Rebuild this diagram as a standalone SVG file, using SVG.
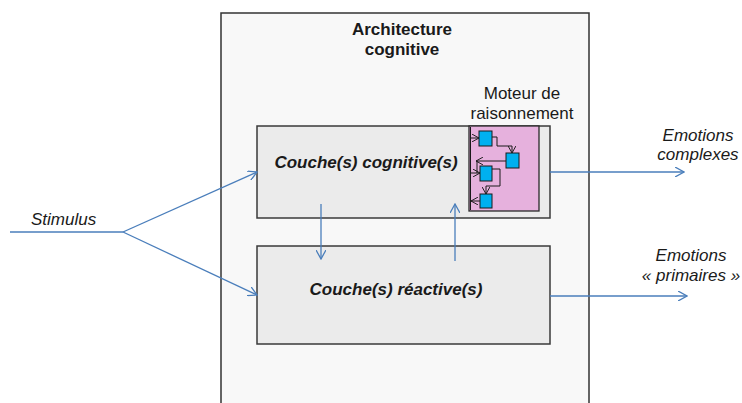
<svg xmlns="http://www.w3.org/2000/svg" width="742" height="403" viewBox="0 0 742 403">
<defs>
<style>
.t{font-family:"Liberation Sans",Arial,sans-serif;font-size:17px;fill:#1a1a1a}
.b{font-weight:bold}
.i{font-style:italic}
.box{fill:#ebebeb;stroke:#3a3a3a;stroke-width:1.5}
.conn{fill:none;stroke:#4a7ebb;stroke-width:1.3}
.sq{fill:#00b0f0;stroke:#1a1a1a;stroke-width:1}
.ln{fill:none;stroke:#1a1a1a;stroke-width:1}
</style>
<marker id="ah" viewBox="0 0 10 10" refX="9" refY="5" markerWidth="10" markerHeight="10" markerUnits="userSpaceOnUse" orient="auto">
<path d="M0,0 L9,5 L0,10" fill="none" stroke="#4a7ebb" stroke-width="1.3"/>
</marker>
<marker id="sa" viewBox="0 0 10 10" refX="9" refY="5" markerWidth="8" markerHeight="8" markerUnits="userSpaceOnUse" orient="auto">
<path d="M0,0 L9,5 L0,10" fill="none" stroke="#1a1a1a" stroke-width="1.2"/>
</marker>
</defs>
<rect width="742" height="403" fill="#ffffff"/>
<g id="architecture">
<rect x="221" y="13" width="368" height="400" fill="#f8f8f8" stroke="#333" stroke-width="1.5"/>
<text class="t b" x="402" y="35" text-anchor="middle">Architecture</text>
<text class="t b" x="402" y="55" text-anchor="middle">cognitive</text>
</g>
<g id="cognitive">
<rect class="box" x="257" y="126" width="293" height="92"/>
<text class="t b i" x="366" y="168" text-anchor="middle">Couche(s) cognitive(s)</text>
</g>
<g id="reactive">
<rect class="box" x="257" y="246" width="293" height="98"/>
<text class="t b i" x="396" y="295" text-anchor="middle">Couche(s) réactive(s)</text>
</g>
<g id="moteur">
<text class="t" x="522" y="99" text-anchor="middle">Moteur de</text>
<text class="t" x="522" y="119" text-anchor="middle">raisonnement</text>
<rect x="469" y="126" width="70" height="85" fill="#e6b1dd" stroke="#2a2a2a" stroke-width="1.3"/>
<line class="ln" x1="470.5" y1="127" x2="470.5" y2="210" stroke-width="1.5"/>
<path class="ln" d="M470,138 L479,138" marker-end="url(#sa)"/>
<path class="ln" d="M492,137 L497,137 L497,146 L512,146 L512,153" marker-end="url(#sa)"/>
<path class="ln" d="M506,161 L476,161" marker-end="url(#sa)"/>
<path class="ln" d="M477,161 L477,173"/>
<path class="ln" d="M470,173 L480,173" marker-end="url(#sa)"/>
<path class="ln" d="M492,169 L500,169 L500,186 L486,186 L486,194" marker-end="url(#sa)"/>
<path class="ln" d="M480,201 L471,201" marker-end="url(#sa)"/>
<rect class="sq" x="479" y="131" width="13" height="15"/>
<rect class="sq" x="506" y="153" width="13" height="15"/>
<rect class="sq" x="480" y="166" width="12" height="15"/>
<rect class="sq" x="480" y="194" width="12" height="14"/>
</g>
<g id="stimulus">
<text class="t i" x="31" y="225">Stimulus</text>
</g>
<g id="emotions-complexes">
<text class="t i" x="698" y="141" text-anchor="middle">Emotions</text>
<text class="t i" x="698" y="160" text-anchor="middle">complexes</text>
</g>
<g id="emotions-primaires">
<text class="t i" x="691" y="261" text-anchor="middle">Emotions</text>
<text class="t i" x="691" y="281" text-anchor="middle">« primaires »</text>
</g>
<g id="connectors">
<path class="conn" d="M10,232 L123,232"/>
<path class="conn" d="M123,232 L257,172" marker-end="url(#ah)"/>
<path class="conn" d="M123,232 L257,295" marker-end="url(#ah)"/>
<path class="conn" d="M321,204 L321,259" marker-end="url(#ah)"/>
<path class="conn" d="M455,261 L455,204" marker-end="url(#ah)"/>
<path class="conn" d="M550,172 L684,172" marker-end="url(#ah)"/>
<path class="conn" d="M550,296 L687,296" marker-end="url(#ah)"/>
</g>
</svg>
